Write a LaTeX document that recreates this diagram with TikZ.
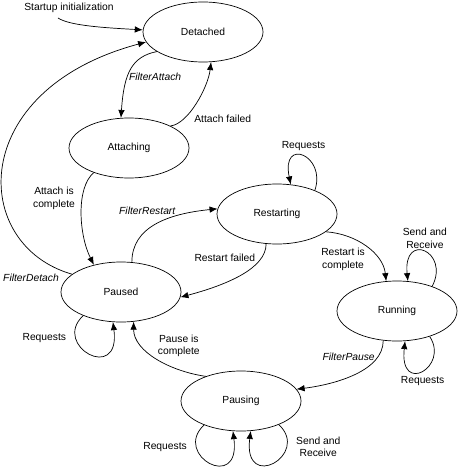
\documentclass[tikz,border=0pt]{standalone}
\usepackage{fontspec}
\setmainfont{Liberation Sans}
\usetikzlibrary{arrows.meta,shapes.geometric}
\tikzset{state/.style={ellipse,draw=black,line width=0.7pt,minimum width=120pt,minimum height=60pt,inner sep=0pt}}
\tikzset{trans/.style={->,line width=0.7pt}}
\tikzset{lbl/.style={align=center,inner sep=1pt}}

\begin{document}
\begin{tikzpicture}[x=1pt,y=-1pt,>={Latex[length=8pt,width=6.5pt]},every node/.style={font=\fontsize{10.3}{12.5}\selectfont}]
\useasboundingbox (0,0) rectangle (458,468);
% \draw[help lines] (0,0) grid (458,468);
\node (det) [state] at (203,32) {Detached};
\node (att) [state] at (129,148) {Attaching};
\node (pau) [state] at (121,292) {Paused};
\node (rst) [state] at (277,214) {Restarting};
\node (run) [state] at (397,311) {Running};
\node (pse) [state] at (241,401) {Pausing};
%
\node (init) [lbl] at (69,8) {Startup initialization};
\coordinate (initx) at (58,18);
\path[trans] (initx) edge[controls={+(12,8) and +(-35,-2)}] (det.178);
%
\path[trans] (det.203) edge[controls={+(-25,5) and +(3,-45)}] node[lbl,pos=0.6,anchor=west] {\textit{FilterAttach}} (att.105);
\path[trans] (att.28) edge[controls={+(18,-2) and +(-3,25)}] node[lbl,pos=0.25,right=9pt] {Attach failed} (det.285);
\path[trans] (att.215) edge[controls={+(-18,15) and +(-15,-30)}] node[lbl,pos=0.35,left=6pt] {Attach is\\complete} (pau.135);
\path[trans] (pau.160) edge[controls={+(-102,-29) and +(-180,48)}] node[lbl,pos=0.02,anchor=north east,xshift=-6pt] {\textit{FilterDetach}} (det.190);
%
\path[trans] (pau.70) edge[controls={+(0,-35) and +(-50,5)}] node[lbl,pos=0.7,anchor=south east] {\textit{FilterRestart}} (rst.175);
\path[trans] (rst.250) edge[controls={+(0,25) and +(45,-12)}] node[lbl,pos=0.2,left=5pt] {Restart failed} (pau.355);
\path[trans] (rst.32) edge[controls={+(12,-35) and +(-10,-48)}] node[lbl,pos=0.5,above=4pt] {Requests} (rst.65);
\path[trans] (rst.340) edge[controls={+(30,2) and +(-3,-28)}] node[lbl,pos=0.5,anchor=north east] {Restart is\\complete} (run.110);
%
\path[trans] (run.35) edge[controls={+(18,-35) and +(-5,-50)}] node[lbl,pos=0.5,above=2pt] {Send and\\Receive} (run.70);
\path[trans] (run.322) edge[controls={+(20,30) and +(-6,55)}] node[lbl,pos=0.5,below=4pt] {Requests} (run.285);
\path[trans] (run.245) edge[controls={+(0,30) and +(40,-5)}] node[lbl,pos=0.2,anchor=east,xshift=-2pt] {\textit{FilterPause}} (pse.12);
%
\path[trans] (pse.145) edge[controls={+(-35,-5) and +(0,30)}] node[lbl,pos=0.5,anchor=south west] {Pause is\\complete} (pau.293);
\path[trans] (pau.212) edge[controls={+(-32,30) and +(8,62)}] node[lbl,pos=0.25,left=8pt] {Requests} (pau.255);
\path[trans] (pse.213) edge[controls={+(-32,30) and +(8,62)}] node[lbl,pos=0.25,left=8pt] {Requests} (pse.255);
\path[trans] (pse.328) edge[controls={+(32,30) and +(-8,62)}] node[lbl,pos=0.25,right=8pt] {Send and\\Receive} (pse.288);
\end{tikzpicture}
\end{document}
